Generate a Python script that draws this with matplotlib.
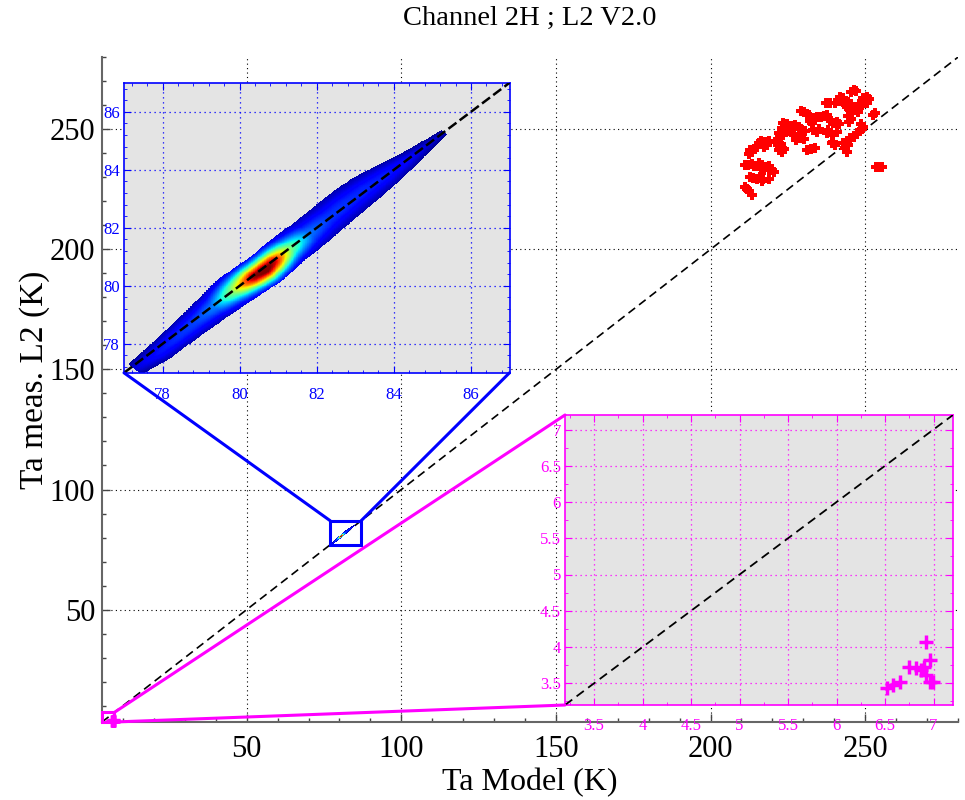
import numpy as np
import matplotlib.pyplot as plt
from matplotlib.patches import Rectangle, ConnectionPatch
from matplotlib.ticker import MultipleLocator

plt.rcParams['font.family'] = ['Liberation Serif', 'DejaVu Serif']

# red points (main axes, Ta model vs Ta measured)
red_x = [245.3, 246.4, 247.0, 241.8, 242.7, 241.6, 242.9, 237.3, 238.6, 240.2,
         244.5, 245.3, 245.6, 244.0, 244.9, 249.4, 250.5, 251.3, 249.9, 248.9,
         248.1, 250.7, 247.2, 246.4, 247.8, 244.6, 245.3, 244.9, 245.7, 252.6,
         253.3, 229.4, 230.2, 231.1, 231.9, 233.2, 234.3, 235.6, 236.7, 237.7,
         232.1, 232.7, 239.7, 240.8, 241.6, 238.8, 223.5, 224.8, 225.9, 224.2,
         223.1, 227.4, 228.5, 229.1, 222.0, 223.1, 224.6, 225.9, 226.5, 223.5,
         222.5, 229.6, 230.6, 233.2, 234.3, 235.0, 238.1, 237.5, 239.3, 240.8,
         220.9, 222.0, 222.7, 222.5, 223.1, 222.0, 223.1, 223.7, 227.6, 228.9,
         230.2, 231.3, 232.6, 233.9, 239.7, 240.3, 239.3, 242.9, 244.0, 245.1,
         244.6, 243.6, 244.0, 246.4, 247.4, 248.3, 248.9, 215.6, 216.2, 217.3,
         218.4, 218.8, 217.7, 214.9, 212.8, 213.4, 214.0, 212.5, 211.1, 212.2,
         213.3, 214.0, 215.6, 216.6, 217.7, 218.8, 216.2, 217.3, 218.8, 219.9,
         220.5, 212.8, 213.6, 214.9, 216.0, 217.1, 218.8, 216.6, 211.2, 211.7,
         212.3, 213.4, 253.5, 254.3, 255.3, 248.8, 249.4]
red_y = [265.6, 266.3, 265.9, 263.6, 262.9, 261.9, 261.5, 260.8, 261.1, 260.8,
         261.5, 260.5, 259.4, 259.1, 258.3, 262.9, 263.6, 262.5, 261.1, 260.0,
         260.5, 260.8, 259.1, 258.0, 257.2, 255.5, 254.1, 253.0, 256.6, 255.9,
         256.6, 257.7, 257.0, 256.3, 255.8, 254.5, 255.2, 255.0, 255.5, 255.8,
         253.6, 252.7, 252.4, 253.0, 252.2, 253.3, 252.4, 252.2, 251.3, 251.1,
         250.6, 251.8, 251.1, 250.0, 248.3, 249.0, 249.7, 249.0, 248.0, 247.4,
         247.3, 248.3, 249.4, 249.7, 249.0, 250.2, 249.7, 248.3, 247.6, 249.0,
         244.8, 244.4, 243.8, 243.0, 242.4, 241.3, 240.6, 241.9, 245.5, 246.2,
         245.8, 241.3, 241.8, 242.2, 244.8, 243.3, 244.1, 244.1, 245.1, 246.2,
         243.3, 242.0, 240.5, 246.9, 248.3, 249.4, 250.2, 244.1, 245.0, 242.7,
         243.6, 245.0, 244.7, 242.7, 241.3, 240.5, 241.9, 239.7, 235.1, 235.1,
         235.5, 234.7, 235.8, 235.1, 234.1, 234.7, 233.6, 233.0, 233.3, 233.0,
         232.2, 230.2, 229.8, 229.4, 230.2, 229.1, 229.4, 228.4, 226.1, 225.1,
         224.3, 222.6, 234.4, 234.4, 234.1, 252.2, 251.1]

# magenta points (low end, shown in lower-right zoom)
mag_x = [6.52, 6.58, 6.65, 6.75, 6.82, 6.87, 6.92, 6.96, 6.92, 6.96, 6.99, 6.90]
mag_y = [3.43, 3.48, 3.52, 3.73, 3.71, 3.68, 4.07, 3.82, 3.61, 3.52, 3.52, 3.73]

# density cloud profile read along the diagonal (upper-left zoom)
cloud_u = [77.2, 77.8, 78.3, 78.8, 79.3, 79.8, 80.3, 80.6, 80.9, 81.3, 81.8,
           82.3, 82.8, 83.3, 83.8, 84.3, 84.8, 85.3]
cloud_off = [-0.15, -0.2, -0.15, -0.1, -0.05, 0.0, -0.05, -0.1, -0.05, 0.0, 0.0,
             0.05, 0.1, 0.1, 0.05, 0.0, 0.0, 0.0]
cloud_half = [0.35, 0.5, 0.55, 0.62, 0.7, 0.8, 0.82, 0.82, 0.82, 0.8, 0.78,
              0.76, 0.75, 0.7, 0.58, 0.42, 0.28, 0.15]
cloud_body = [0.08, 0.14, 0.17, 0.19, 0.2, 0.22, 0.22, 0.22, 0.22, 0.2, 0.19,
              0.18, 0.17, 0.16, 0.15, 0.12, 0.08, 0.06]
cloud_core = [0, 0, 0, 0, 0.05, 0.3, 0.75, 0.85, 0.7, 0.3, 0.05,
              0, 0, 0, 0, 0, 0, 0]

main_lim = (3.2, 280)
zoom1_lim = (77, 87)
zoom2_lim = (3.2, 7.2)

# density image
g = np.linspace(zoom1_lim[0], zoom1_lim[1], 600)
X, Y = np.meshgrid(g, g)
U = (X + Y) / 2
V = Y - X
R = (V - np.interp(U, cloud_u, cloud_off)) / np.interp(U, cloud_u, cloud_half)
level = (np.interp(U, cloud_u, cloud_body) * np.exp(-1.4 * R ** 2)
         + np.interp(U, cloud_u, cloud_core) * np.exp(-2.5 * R ** 2))
level = np.ma.masked_where((np.abs(R) > 1) | (U < cloud_u[0]) | (U > cloud_u[-1]), level)

fig = plt.figure(figsize=(9.65, 8), dpi=100)

# main axes
ax = fig.add_axes([0.1057, 0.0975, 0.887, 0.831])
ax.set_xlim(main_lim)
ax.set_ylim(main_lim)
for s in ['top', 'right']:
    ax.spines[s].set_visible(False)
for s in ['left', 'bottom']:
    ax.spines[s].set_color('#666666')
    ax.spines[s].set_linewidth(1.5)
ax.set_xticks([50, 100, 150, 200, 250])
ax.set_yticks([50, 100, 150, 200, 250])
ax.xaxis.set_minor_locator(MultipleLocator(10))
ax.yaxis.set_minor_locator(MultipleLocator(10))
ax.tick_params(which='both', direction='in', color='#444444', labelsize=22)
ax.tick_params(which='major', length=6, width=1)
ax.tick_params(which='minor', length=3, width=1)
ax.tick_params(axis='x', pad=9.5)
ax.tick_params(axis='y', pad=5)
ax.grid(True, color='black', linestyle=(0, (1, 3)), linewidth=0.8)
ax.plot(main_lim, main_lim, color='black', linestyle=(0, (5, 3)), linewidth=1.2)
ax.imshow(level, extent=[*zoom1_lim, *zoom1_lim], origin='lower', cmap='jet',
          vmin=0, vmax=1, aspect='auto', interpolation='nearest', zorder=2)
ax.plot(red_x, red_y, linestyle='none', marker='P', markersize=6.5,
        markeredgewidth=0, color='red', zorder=3)
ax.plot(mag_x, mag_y, linestyle='none', marker='+', markersize=9,
        markeredgewidth=2.5, color='#ff00ff', clip_on=False, zorder=4)
ax.add_patch(Rectangle((zoom1_lim[0], zoom1_lim[0]), zoom1_lim[1] - zoom1_lim[0],
                       zoom1_lim[1] - zoom1_lim[0], fill=False, edgecolor='blue',
                       linewidth=2.2, zorder=5))
ax.add_patch(Rectangle((zoom2_lim[0], zoom2_lim[0]), zoom2_lim[1] - zoom2_lim[0],
                       zoom2_lim[1] - zoom2_lim[0], fill=False, edgecolor='#ff00ff',
                       linewidth=2.2, clip_on=False, zorder=5))
ax.set_xlim(main_lim)
ax.set_ylim(main_lim)


def style_inset(a, lim, color, major, minor, labels, xpad):
    a.set_facecolor('#e4e4e4')
    a.set_xlim(lim)
    a.set_ylim(lim)
    for s in a.spines.values():
        s.set_color(color)
        s.set_linewidth(1.2)
    a.set_xticks(major)
    a.set_yticks(major)
    a.set_xticklabels(labels)
    a.set_yticklabels(labels)
    a.xaxis.set_minor_locator(MultipleLocator(minor))
    a.yaxis.set_minor_locator(MultipleLocator(minor))
    a.tick_params(which='both', direction='in', color=color, labelcolor=color,
                  top=True, right=True, labelsize=12)
    a.tick_params(which='major', length=5)
    a.tick_params(which='minor', length=2.5)
    a.tick_params(axis='x', pad=xpad)
    a.tick_params(axis='y', pad=3)
    a.grid(True, color=color, linestyle=(0, (1, 3)), linewidth=0.9)


# upper-left zoom
z1_major = [78, 80, 82, 84, 86]
ax1 = fig.add_axes([0.1285, 0.534, 0.3995, 0.3625])
style_inset(ax1, zoom1_lim, 'blue', z1_major, 0.4, [str(v) for v in z1_major], 10.5)
ax1.imshow(level, extent=[*zoom1_lim, *zoom1_lim], origin='lower', cmap='jet',
           vmin=0, vmax=1, aspect='auto', interpolation='nearest', zorder=2)
ax1.plot(zoom1_lim, zoom1_lim, color='black', linestyle=(0, (4, 1.6)),
         linewidth=1.8, zorder=3)

# lower-right zoom
z2_major = [3.5, 4, 4.5, 5, 5.5, 6, 6.5, 7]
ax2 = fig.add_axes([0.5855, 0.11875, 0.402, 0.3625])
style_inset(ax2, zoom2_lim, '#ff00ff', z2_major, 0.25,
            [f'{v:g}' for v in z2_major], 9.0)
ax2.plot(zoom2_lim, zoom2_lim, color='black', linestyle=(0, (5, 3)),
         linewidth=1.3, zorder=3)
ax2.plot(mag_x, mag_y, linestyle='none', marker='+', markersize=10,
         markeredgewidth=2.5, color='#ff00ff', zorder=4)

# connectors
for xa, ya, xb, yb in [(77, 77, 77, 87), (87, 77, 87, 87)]:
    fig.add_artist(ConnectionPatch(xyA=(xa, ya), coordsA=ax1.transData,
                                   xyB=(xb, yb), coordsB=ax.transData,
                                   color='blue', linewidth=2.2))
for xa, ya, xb, yb in [(3.2, 7.2, 7.2, 7.2), (3.2, 3.2, 7.2, 3.2)]:
    fig.add_artist(ConnectionPatch(xyA=(xa, ya), coordsA=ax2.transData,
                                   xyB=(xb, yb), coordsB=ax.transData,
                                   color='#ff00ff', linewidth=2.2))

fig.text(0.549, 0.977, 'Channel 2H ; L2 V2.0', ha='center', va='center', fontsize=20.5)
fig.text(0.549, 0.022, 'Ta Model (K)', ha='center', va='center', fontsize=23)
fig.text(0.036, 0.525, 'Ta meas. L2 (K)', ha='center', va='center',
         rotation=90, fontsize=24)

fig.savefig('out.png', dpi=100)
